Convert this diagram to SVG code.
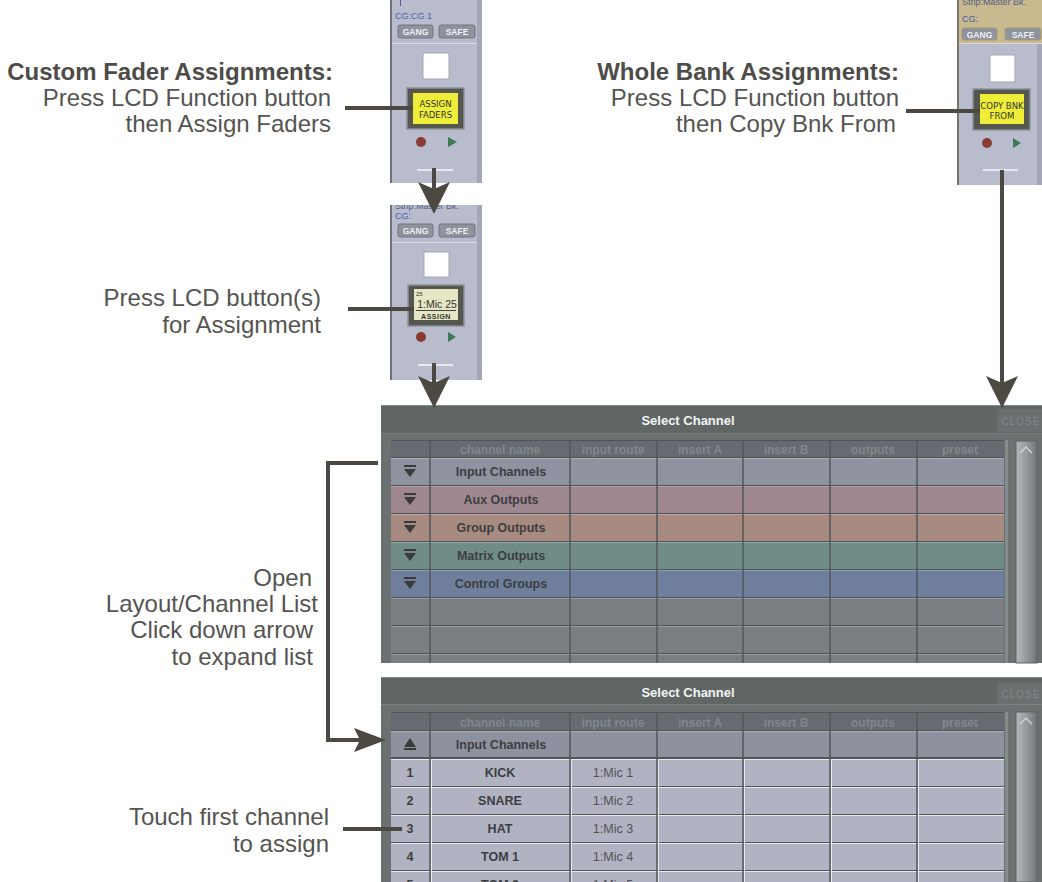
<svg xmlns="http://www.w3.org/2000/svg" width="1042" height="882" viewBox="0 0 1042 882">
<style>
.lbl{font-family:"Liberation Sans",Arial,sans-serif;font-size:24px;fill:#555451;text-anchor:end}
.lblb{font-weight:bold;fill:#4d4c48}
.cg{font-family:"Liberation Sans",Arial,sans-serif;font-size:9px;fill:#4262b0}
.stp{font-family:"Liberation Sans",Arial,sans-serif;font-size:9px;fill:#50608a}
.btn{fill:#8f939d;stroke:#70747e;stroke-width:1}
.btnt{font-family:"Liberation Sans",Arial,sans-serif;font-size:8.5px;font-weight:bold;fill:#eef0f6;text-anchor:middle}
.lcdt{font-family:"DejaVu Sans Condensed","Liberation Sans",sans-serif;font-size:9.5px;fill:#34342a;text-anchor:middle}
.ttl{font-family:"Liberation Sans",Arial,sans-serif;font-size:13px;font-weight:bold;fill:#f2f4f4;text-anchor:middle}
.hdr{font-family:"Liberation Sans",Arial,sans-serif;font-size:12px;font-weight:bold;fill:#80878c;text-anchor:middle}
.cls{font-family:"Liberation Sans",Arial,sans-serif;font-size:10px;fill:#80878a;text-anchor:middle;letter-spacing:1px}
.rt{font-family:"Liberation Sans",Arial,sans-serif;font-size:12.5px;font-weight:bold;fill:#3c3e41;text-anchor:middle}
.rn{font-family:"Liberation Sans",Arial,sans-serif;font-size:12.5px;fill:#505257;text-anchor:middle}
.vl{stroke:#50575a;stroke-width:1.5}
.hl{stroke:#ffffff;stroke-opacity:0.25;stroke-width:1}
.conn{fill:none;stroke:#4c4943;stroke-width:4}
.glyph{fill:#3a3a3a}
</style>
<defs>
<marker id="ah" markerUnits="userSpaceOnUse" markerWidth="34" markerHeight="34" viewBox="0 0 34 34" refX="17" refY="17" orient="auto">
<path d="M0,1 L32,17 L0,33 L7,17 Z" fill="#4c4943"/>
</marker>
<marker id="ah2" markerUnits="userSpaceOnUse" markerWidth="34" markerHeight="26" viewBox="0 0 34 26" refX="17" refY="13" orient="auto">
<path d="M0,1 L32,13 L0,25 L6,13 Z" fill="#4c4943"/>
</marker>
<linearGradient id="scr" x1="0" y1="0" x2="1" y2="0">
<stop offset="0" stop-color="#b4b7ba"/>
<stop offset="0.5" stop-color="#969a9e"/>
<stop offset="1" stop-color="#71757a"/>
</linearGradient>
<clipPath id="c2"><rect x="390" y="205" width="92" height="175"/></clipPath>
<clipPath id="c3"><rect x="957" y="0" width="85" height="185"/></clipPath>
</defs>

<!-- Strip 1 -->
<g id="strip-assign-faders">
<rect x="390" y="0" width="92" height="183" fill="#b8bccd"/>
<rect x="390" y="0" width="2" height="183" fill="#6d717c"/>
<rect x="477" y="0" width="5" height="183" fill="#a3a7b7"/>
<line x1="400.5" y1="0" x2="400.5" y2="6" stroke="#50608a" stroke-width="1"/>
<line x1="392" y1="43.5" x2="477" y2="43.5" stroke="#d8dbe5" stroke-width="1"/>
<text class="cg" x="395" y="19">CG:CG 1</text>
<rect class="btn" x="398" y="25" width="35" height="13" rx="2"/>
<text class="btnt" x="415.5" y="35">GANG</text>
<rect class="btn" x="439" y="25" width="36" height="13" rx="2"/>
<text class="btnt" x="457" y="35">SAFE</text>
<rect x="423" y="53" width="26" height="26" fill="#ffffff" stroke="#a4a8b4"/>
<rect x="407" y="88" width="57" height="41" fill="#55574f" stroke="#8d919a" stroke-width="1.5"/>
<rect x="413" y="93" width="45" height="31" fill="#eeee3a"/>
<text class="lcdt" x="435.5" y="107">ASSIGN</text>
<text class="lcdt" x="435.5" y="118">FADERS</text>
<circle cx="421" cy="142" r="5" fill="#8a3b33"/>
<path d="M448,137 L457,142 L448,147 Z" fill="#3f7a57"/>
<line x1="417" y1="170" x2="453" y2="170" stroke="#f6f6fa" stroke-width="1.5"/>
</g>

<!-- Strip 2 -->
<g id="strip-lcd-assign">
<g clip-path="url(#c2)">
<rect x="390" y="205" width="92" height="175" fill="#b8bccd"/>
<rect x="390" y="205" width="2" height="175" fill="#6d717c"/>
<rect x="477" y="205" width="5" height="175" fill="#a3a7b7"/>
<text class="stp" x="395" y="209">Strip:Master Bk.</text>
</g>
<line x1="392" y1="242.5" x2="477" y2="242.5" stroke="#d8dbe5" stroke-width="1"/>
<text class="cg" x="395" y="219">CG:</text>
<rect class="btn" x="398" y="224" width="35" height="13" rx="2"/>
<text class="btnt" x="415.5" y="234">GANG</text>
<rect class="btn" x="439" y="224" width="36" height="13" rx="2"/>
<text class="btnt" x="457" y="234">SAFE</text>
<rect x="424" y="252" width="25" height="25" fill="#ffffff" stroke="#a4a8b4"/>
<rect x="408" y="285" width="56" height="41" fill="#55574f" stroke="#8d919a" stroke-width="1.5"/>
<rect x="414" y="289" width="44" height="31" fill="#e4e6c4"/>
<text x="416" y="296" font-family="Liberation Sans, sans-serif" font-size="6px" fill="#333">25</text>
<text x="437" y="308" font-family="Liberation Sans, sans-serif" font-size="10.5px" fill="#333" text-anchor="middle">1:Mic 25</text>
<line x1="416" y1="310.5" x2="456" y2="310.5" stroke="#444" stroke-width="1"/>
<text x="436" y="318.5" font-family="Liberation Sans, sans-serif" font-size="7px" font-weight="bold" fill="#333" text-anchor="middle" letter-spacing="0.5">ASSIGN</text>
<circle cx="421" cy="337" r="5" fill="#8a3b33"/>
<path d="M448,332 L456,337 L448,342 Z" fill="#3f7a57"/>
<line x1="418" y1="365" x2="453" y2="365" stroke="#f6f6fa" stroke-width="1.5"/>
</g>

<!-- Strip 3 -->
<g id="strip-copy-bank">
<g clip-path="url(#c3)">
<rect x="957" y="0" width="85" height="185" fill="#b8bccd"/>
<rect x="957" y="0" width="85" height="43" fill="#c8b98e"/>
<rect x="957" y="0" width="2" height="185" fill="#7a7468"/>
<rect x="1037" y="43" width="5" height="142" fill="#a3a7b7"/>
<text class="stp" x="962" y="5">Strip:Master Bk.</text>
</g>
<line x1="959" y1="43.5" x2="1042" y2="43.5" stroke="#d8dbe5" stroke-width="1"/>
<text class="cg" x="962" y="22">CG:</text>
<rect x="962" y="28" width="35" height="12" rx="2" fill="#8f939d" stroke="#a89a70"/>
<text class="btnt" x="979.5" y="37.5">GANG</text>
<rect x="1005" y="28" width="36" height="12" rx="2" fill="#8f939d" stroke="#a89a70"/>
<text class="btnt" x="1023" y="37.5">SAFE</text>
<rect x="990" y="55" width="25" height="27" fill="#ffffff" stroke="#a4a8b4"/>
<rect x="973" y="89" width="57" height="41" fill="#55574f" stroke="#8d919a" stroke-width="1.5"/>
<rect x="980" y="94" width="44" height="30" fill="#eeee3a"/>
<text class="lcdt" x="1002" y="109">COPY BNK</text>
<text class="lcdt" x="1002" y="119">FROM</text>
<circle cx="987" cy="143" r="5" fill="#8a3b33"/>
<path d="M1013,138 L1021,143 L1013,148 Z" fill="#3f7a57"/>
<line x1="983" y1="170" x2="1018" y2="170" stroke="#f6f6fa" stroke-width="1.5"/>
</g>

<!-- Panel 1 -->
<g id="panel-select-channel-1">
<rect x="381" y="405" width="661" height="258" fill="#6b7170"/>
<rect x="381" y="405" width="661" height="28" fill="#5f6664"/>
<line x1="381" y1="405.5" x2="1042" y2="405.5" stroke="#858b8a"/>
<line x1="381" y1="433.5" x2="1042" y2="433.5" stroke="#7b8281"/>
<rect x="997" y="409" width="45" height="23" fill="#6a706f"/>
<text class="cls" x="1021" y="425">CLOSE</text>
<text class="ttl" x="688" y="425">Select Channel</text>
<rect x="391" y="440" width="613" height="223" fill="#4f5557"/>
<rect x="391" y="441" width="613" height="16" fill="#656b71"/>
<rect x="391" y="458" width="613" height="27" fill="#8f929f"/>
<rect x="391" y="486" width="613" height="27" fill="#9f878f"/>
<rect x="391" y="514" width="613" height="27" fill="#a78b80"/>
<rect x="391" y="542" width="613" height="27" fill="#6f8c87"/>
<rect x="391" y="570" width="613" height="27" fill="#6e7e9c"/>
<rect x="391" y="598" width="613" height="27" fill="#7b7e83"/>
<rect x="391" y="626" width="613" height="27" fill="#7b7e83"/>
<rect x="391" y="654" width="613" height="9" fill="#7b7e83"/>
<g class="hl">
<line x1="391" y1="458.5" x2="1004" y2="458.5"/>
<line x1="391" y1="486.5" x2="1004" y2="486.5"/>
<line x1="391" y1="514.5" x2="1004" y2="514.5"/>
<line x1="391" y1="542.5" x2="1004" y2="542.5"/>
<line x1="391" y1="570.5" x2="1004" y2="570.5"/>
<line x1="391" y1="598.5" x2="1004" y2="598.5"/>
<line x1="391" y1="626.5" x2="1004" y2="626.5"/>
<line x1="391" y1="654.5" x2="1004" y2="654.5"/>
</g>
<g class="vl">
<line x1="430" y1="440" x2="430" y2="663"/>
<line x1="570" y1="440" x2="570" y2="663"/>
<line x1="657" y1="440" x2="657" y2="663"/>
<line x1="743" y1="440" x2="743" y2="663"/>
<line x1="830" y1="440" x2="830" y2="663"/>
<line x1="917" y1="440" x2="917" y2="663"/>
</g>
<text class="hdr" x="500" y="454">channel name</text>
<text class="hdr" x="613" y="454">input route</text>
<text class="hdr" x="700" y="454">insert A</text>
<text class="hdr" x="786" y="454">insert B</text>
<text class="hdr" x="873" y="454">outputs</text>
<text class="hdr" x="960" y="454">preset</text>
<g class="glyph">
<rect x="404" y="465" width="12" height="2"/><path d="M404,469 L416,469 L410,477 Z"/>
<rect x="404" y="493" width="12" height="2"/><path d="M404,497 L416,497 L410,505 Z"/>
<rect x="404" y="521" width="12" height="2"/><path d="M404,525 L416,525 L410,533 Z"/>
<rect x="404" y="549" width="12" height="2"/><path d="M404,553 L416,553 L410,561 Z"/>
<rect x="404" y="577" width="12" height="2"/><path d="M404,581 L416,581 L410,589 Z"/>
</g>
<text class="rt" x="501" y="476">Input Channels</text>
<text class="rt" x="501" y="504">Aux Outputs</text>
<text class="rt" x="501" y="532">Group Outputs</text>
<text class="rt" x="501" y="560">Matrix Outputs</text>
<text class="rt" x="501" y="588">Control Groups</text>
<rect x="1004" y="434" width="38" height="229" fill="#6b7170"/>
<rect x="1005" y="440" width="3" height="223" fill="#848b8c"/>
<rect x="1016" y="441" width="21" height="222" fill="url(#scr)" stroke="#5d6265"/>
<path d="M1020,453 L1026,447 L1032,453" fill="none" stroke="#cfd1d3" stroke-width="1.5"/>
</g>

<!-- Panel 2 -->
<g id="panel-select-channel-2">
<rect x="381" y="677" width="661" height="205" fill="#6b7170"/>
<rect x="381" y="677" width="661" height="27" fill="#5f6664"/>
<line x1="381" y1="677.5" x2="1042" y2="677.5" stroke="#858b8a"/>
<line x1="381" y1="704.5" x2="1042" y2="704.5" stroke="#7b8281"/>
<rect x="997" y="683" width="45" height="21" fill="#6a706f"/>
<text class="cls" x="1021" y="698">CLOSE</text>
<text class="ttl" x="688" y="697">Select Channel</text>
<rect x="391" y="712" width="613" height="170" fill="#4f5557"/>
<rect x="391" y="713" width="613" height="17" fill="#656b71"/>
<rect x="391" y="731" width="613" height="26" fill="#8e919e"/>
<rect x="391" y="759" width="613" height="27" fill="#b1b3c2"/>
<rect x="391" y="787" width="613" height="27" fill="#b1b3c2"/>
<rect x="391" y="815" width="613" height="27" fill="#b1b3c2"/>
<rect x="391" y="843" width="613" height="27" fill="#b1b3c2"/>
<rect x="391" y="871" width="613" height="11" fill="#b1b3c2"/>
<g class="hl">
<line x1="391" y1="731.5" x2="1004" y2="731.5"/>
</g>
<g stroke="#e8e9f0" stroke-width="1.2">
<line x1="391" y1="759.5" x2="1004" y2="759.5"/>
<line x1="391" y1="787.5" x2="1004" y2="787.5"/>
<line x1="391" y1="815.5" x2="1004" y2="815.5"/>
<line x1="391" y1="843.5" x2="1004" y2="843.5"/>
<line x1="391" y1="871.5" x2="1004" y2="871.5"/>
</g>
<g class="vl">
<line x1="430" y1="712" x2="430" y2="882"/>
<line x1="570" y1="712" x2="570" y2="882"/>
<line x1="657" y1="712" x2="657" y2="882"/>
<line x1="743" y1="712" x2="743" y2="882"/>
<line x1="830" y1="712" x2="830" y2="882"/>
<line x1="917" y1="712" x2="917" y2="882"/>
</g>
<g stroke="#e8e9f0" stroke-width="1">
<line x1="431.5" y1="759" x2="431.5" y2="882"/>
<line x1="571.5" y1="759" x2="571.5" y2="882"/>
<line x1="658.5" y1="759" x2="658.5" y2="882"/>
<line x1="744.5" y1="759" x2="744.5" y2="882"/>
<line x1="831.5" y1="759" x2="831.5" y2="882"/>
<line x1="918.5" y1="759" x2="918.5" y2="882"/>
</g>
<text class="hdr" x="500" y="727">channel name</text>
<text class="hdr" x="613" y="727">input route</text>
<text class="hdr" x="700" y="727">insert A</text>
<text class="hdr" x="786" y="727">insert B</text>
<text class="hdr" x="873" y="727">outputs</text>
<text class="hdr" x="960" y="727">preset</text>
<g class="glyph">
<path d="M404,747 L416,747 L410,738 Z"/><rect x="404" y="748" width="12" height="2"/>
</g>
<text class="rt" x="501" y="749">Input Channels</text>
<text class="rt" x="410" y="777" fill="#505257">1</text>
<text class="rt" x="500" y="777">KICK</text>
<text class="rn" x="613" y="777">1:Mic 1</text>
<text class="rt" x="410" y="805" fill="#505257">2</text>
<text class="rt" x="500" y="805">SNARE</text>
<text class="rn" x="613" y="805">1:Mic 2</text>
<text class="rt" x="410" y="833" fill="#505257">3</text>
<text class="rt" x="500" y="833">HAT</text>
<text class="rn" x="613" y="833">1:Mic 3</text>
<text class="rt" x="410" y="861" fill="#505257">4</text>
<text class="rt" x="500" y="861">TOM 1</text>
<text class="rn" x="613" y="861">1:Mic 4</text>
<text class="rt" x="410" y="889" fill="#505257">5</text>
<text class="rt" x="500" y="889">TOM 2</text>
<text class="rn" x="613" y="889">1:Mic 5</text>
<rect x="1004" y="705" width="38" height="177" fill="#6b7170"/>
<rect x="1005" y="712" width="3" height="170" fill="#848b8c"/>
<rect x="1016" y="712" width="21" height="170" fill="url(#scr)" stroke="#5d6265"/>
<path d="M1020,724 L1026,718 L1032,724" fill="none" stroke="#cfd1d3" stroke-width="1.5"/>
</g>

<!-- Labels -->
<g id="label-custom-fader">
<text class="lbl lblb" x="333" y="80">Custom Fader Assignments:</text>
<text class="lbl" x="331" y="106">Press LCD Function button</text>
<text class="lbl" x="331" y="132">then Assign Faders</text>
</g>
<g id="label-whole-bank">
<text class="lbl lblb" x="899" y="80">Whole Bank Assignments:</text>
<text class="lbl" x="899" y="106">Press LCD Function button</text>
<text class="lbl" x="896" y="132">then Copy Bnk From</text>
</g>
<g id="label-press-lcd">
<text class="lbl" x="321" y="306">Press LCD button(s)</text>
<text class="lbl" x="321" y="333">for Assignment</text>
</g>
<g id="label-open-layout">
<text class="lbl" x="312" y="586">Open</text>
<text class="lbl" x="318" y="612">Layout/Channel List</text>
<text class="lbl" x="313" y="638">Click down arrow</text>
<text class="lbl" x="313" y="665">to expand list</text>
</g>
<g id="label-touch-first">
<text class="lbl" x="329" y="825">Touch first channel</text>
<text class="lbl" x="329" y="852">to assign</text>
</g>

<!-- Connectors -->
<g id="connectors">
<line class="conn" x1="345" y1="108" x2="413" y2="108"/>
<line class="conn" x1="906" y1="111" x2="980" y2="111"/>
<line class="conn" x1="348" y1="309" x2="414" y2="309"/>
<line class="conn" x1="343" y1="829" x2="402" y2="829"/>
<line class="conn" x1="434" y1="168" x2="434" y2="199" marker-end="url(#ah)"/>
<line class="conn" x1="434" y1="363" x2="434" y2="393" marker-end="url(#ah)"/>
<line class="conn" x1="1002" y1="170" x2="1002" y2="393" marker-end="url(#ah)"/>
<path class="conn" d="M378,463 H328 V740 H371" marker-end="url(#ah2)"/>
</g>
</svg>
